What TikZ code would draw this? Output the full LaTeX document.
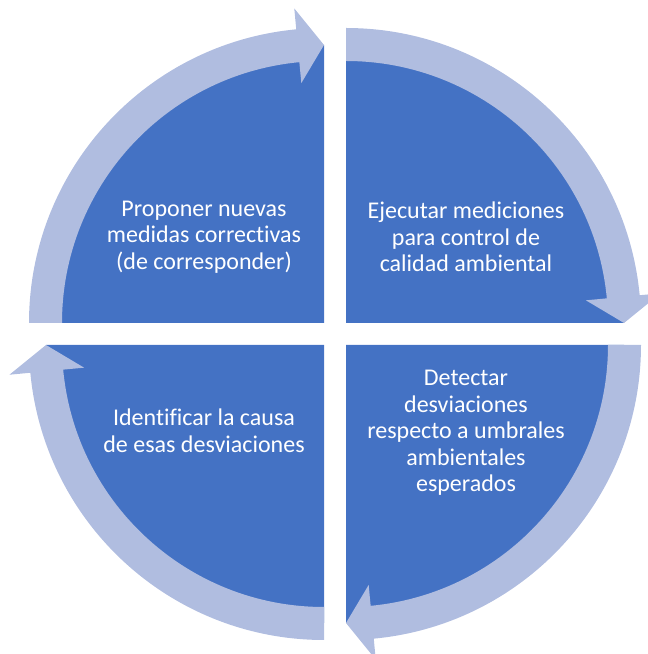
\documentclass[tikz,border=0pt]{standalone}
\usepackage{fontspec}
\setmainfont{Carlito}[Ligatures=NoCommon]
\usepackage{tikz}

\definecolor{quarterblue}{HTML}{4472C4}
\definecolor{ringblue}{HTML}{B0BDE0}

\begin{document}
\begin{tikzpicture}[x=1pt,y=1pt,
	quarter/.style={fill=quarterblue},
	ring/.style={fill=ringblue},
	label/.style={text=white,align=center,font=\fontsize{24}{26.5}\selectfont}]

	\useasboundingbox (0,0) rectangle (648,654);

	% the four quarters
	\fill[quarter] (324,331) -- ++(180:278pt) arc[start angle=180,end angle=90,radius=278pt] -- cycle;
	\fill[quarter] (346,331) -- ++(90:278pt) arc[start angle=90,end angle=0,radius=278pt] -- cycle;
	\fill[quarter] (346,309) -- ++(0:278pt) arc[start angle=0,end angle=-90,radius=278pt] -- cycle;
	\fill[quarter] (324,309) -- ++(270:278pt) arc[start angle=270,end angle=180,radius=278pt] -- cycle;

	% the curved arrows
	\begin{scope}[shift={(324,331)}]
		\fill[ring] (180:295pt) arc[start angle=180,end angle=95.4,radius=295pt] -- (95.4:316pt) -- (90:278pt)
			-- (95.4:241pt) -- (95.4:262pt) arc[start angle=95.4,end angle=180,radius=262pt] -- cycle;
	\end{scope}
	\begin{scope}[shift={(346,331)}]
		\fill[ring] (90:295pt) arc[start angle=90,end angle=5.4,radius=295pt] -- (5.4:316pt) -- (0:278pt)
			-- (5.4:241pt) -- (5.4:262pt) arc[start angle=5.4,end angle=90,radius=262pt] -- cycle;
	\end{scope}
	\begin{scope}[shift={(346,309)}]
		\fill[ring] (0:295pt) arc[start angle=0,end angle=-84.6,radius=295pt] -- (-84.6:316pt) -- (-90:278pt)
			-- (-84.6:241pt) -- (-84.6:262pt) arc[start angle=-84.6,end angle=0,radius=262pt] -- cycle;
	\end{scope}
	\begin{scope}[shift={(324,309)}]
		\fill[ring] (270:295pt) arc[start angle=270,end angle=185.4,radius=295pt] -- (185.4:316pt) -- (180:278pt)
			-- (185.4:241pt) -- (185.4:262pt) arc[start angle=185.4,end angle=270,radius=262pt] -- cycle;
	\end{scope}

	% texts
	\node[label] (proponer) at (204,417) {Proponer nuevas\\medidas correctivas\\(de corresponder)};
	\node[label] (ejecutar) at (466,417) {Ejecutar mediciones\\para control de\\calidad ambiental};
	\node[label] (detectar) at (466,221) {Detectar\\desviaciones\\respecto a umbrales\\ambientales\\esperados};
	\node[label] (identificar) at (204,223) {Identificar la causa\\de esas desviaciones};
\end{tikzpicture}
\end{document}
